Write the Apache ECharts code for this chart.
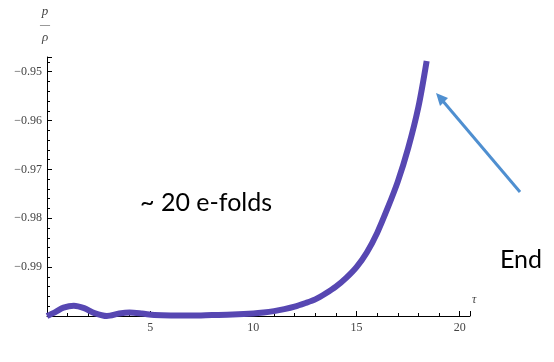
<!DOCTYPE html>
<html>
<head>
<meta charset="utf-8">
<script src="https://cdn.jsdelivr.net/npm/echarts@6/dist/echarts.min.js"></script>
<style>
  html, body { margin: 0; padding: 0; background: #fff; }
  #chart { width: 554px; height: 362px; }
</style>
</head>
<body>
<div id="chart"></div>
<script>
  // tau values and p/rho
  const tauValues = [0, 0.4, 0.8, 1.3, 1.8, 2.3, 2.9, 3.5, 4.0, 4.6, 5.2, 6, 7, 8, 9,
    10, 10.5, 11, 11.5, 12, 12.5, 13, 13.5, 14, 14.5, 15, 15.5, 16, 16.5, 17, 17.5, 18, 18.4];
  const ratioValues = [-1.0000, -0.9992, -0.9983, -0.9979, -0.9984, -0.9994, -1.0000, -0.9995, -0.9993, -0.9995, -0.9998,
    -0.9999, -0.9999, -0.9998, -0.9997,
    -0.9995, -0.9993, -0.9990, -0.9986, -0.9981, -0.9974, -0.9966, -0.9954, -0.9940, -0.9922, -0.9900,
    -0.9870, -0.9830, -0.9780, -0.9725, -0.9657, -0.9572, -0.9478];

  const xTicks = [5, 10, 15, 20];
  const yTicks = [-0.99, -0.98, -0.97, -0.96, -0.95];

  const labelFont = '"Liberation Serif", "DejaVu Serif", serif';
  const noteFont = 'Lato, "Open Sans", sans-serif';

  const chart = echarts.init(document.getElementById('chart'));

  const data = tauValues.map((t, i) => [t, ratioValues[i]]);

  const option = {
    animation: false,
    grid: { left: 47, right: 84, top: 57, bottom: 46 },
    xAxis: {
      type: 'value',
      min: 0,
      max: 20.5,
      interval: 5,
      name: 'τ',
      nameLocation: 'end',
      nameGap: 2,
      nameTextStyle: { fontFamily: labelFont, fontStyle: 'italic', fontSize: 12, color: '#444', verticalAlign: 'bottom', padding: [0, 0, 10, 0] },
      axisLine: { lineStyle: { color: '#000', width: 1 } },
      axisTick: { inside: true, length: 5, lineStyle: { color: '#000' } },
      minorTick: { show: true, splitNumber: 5, length: 3, lineStyle: { color: '#000' } },
      splitLine: { show: false },
      axisLabel: {
        showMinLabel: false,
        showMaxLabel: false,
        margin: 6,
        fontFamily: labelFont,
        fontSize: 12,
        color: '#444',
        formatter: v => xTicks.includes(Math.round(v * 10) / 10) ? String(v) : ''
      }
    },
    yAxis: {
      type: 'value',
      min: -1.0,
      max: -0.947,
      interval: 0.01,
      name: '{a|p}\n{b|—}\n{a|ρ}',
      nameLocation: 'end',
      nameGap: 12,
      nameTextStyle: {
        align: 'center',
        verticalAlign: 'bottom',
        padding: [0, 4, 0, 0],
        rich: {
          a: { fontFamily: labelFont, fontStyle: 'italic', fontSize: 13, color: '#444', lineHeight: 14, align: 'center' },
          b: { fontFamily: labelFont, fontSize: 10, color: '#444', lineHeight: 12, align: 'center' }
        }
      },
      axisLine: { show: true, lineStyle: { color: '#000', width: 1 } },
      axisTick: { show: true, inside: true, length: 5, lineStyle: { color: '#000' } },
      minorTick: { show: true, splitNumber: 5, length: 3, lineStyle: { color: '#000' } },
      splitLine: { show: false },
      axisLabel: {
        showMinLabel: false,
        showMaxLabel: false,
        margin: 5,
        fontFamily: labelFont,
        fontSize: 12,
        color: '#444',
        formatter: v => {
          const r = Math.round(v * 100) / 100;
          return yTicks.includes(r) && Math.abs(v - r) < 1e-6 ? '\u2212' + Math.abs(r).toFixed(2) : '';
        }
      }
    },
    series: [{
      type: 'line',
      data: data,
      smooth: 0.3,
      showSymbol: false,
      lineStyle: { color: '#5747b2', width: 6, cap: 'butt' },
      itemStyle: { color: '#5747b2' }
    }],
    graphic: [
      {
        type: 'text',
        left: 140,
        top: 190,
        style: { text: '~ 20 e-folds', fontFamily: noteFont, fontSize: 25, fill: '#000' }
      },
      {
        type: 'text',
        left: 500,
        top: 247,
        style: { text: 'End', fontFamily: noteFont, fontSize: 25, fill: '#000' }
      },
      {
        type: 'line',
        shape: { x1: 520, y1: 192, x2: 442, y2: 100 },
        style: { stroke: '#4f8fd0', lineWidth: 3 }
      },
      {
        type: 'polygon',
        shape: { points: [[436, 93], [448, 98], [440, 106]] },
        style: { fill: '#4f8fd0' }
      }
    ]
  };

  chart.setOption(option);
</script>
</body>
</html>
